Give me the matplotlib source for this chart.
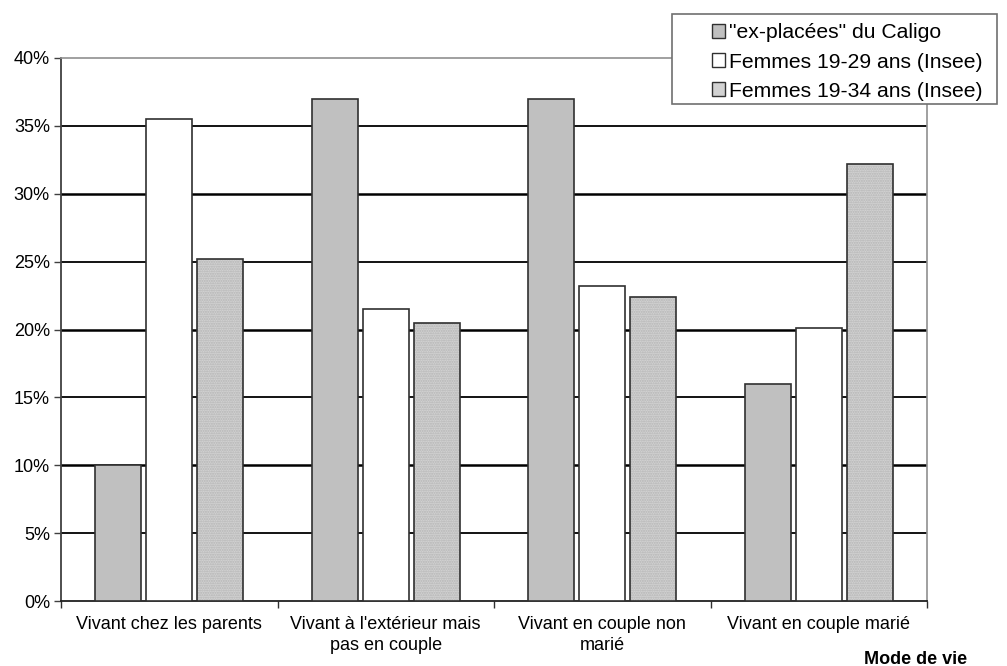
import matplotlib
matplotlib.use("Agg")
import matplotlib.pyplot as plt
from matplotlib.patches import Patch, Rectangle
from matplotlib.ticker import FixedLocator, PercentFormatter
import numpy as np

plt.rcParams['font.family'] = ['Liberation Sans', 'DejaVu Sans']

categories = ["Vivant chez les parents", "Vivant à l'extérieur mais\npas en couple",
              "Vivant en couple non\nmarié", "Vivant en couple marié"]
series_names = ['"ex-placées" du Caligo', "Femmes 19-29 ans (Insee)", "Femmes 19-34 ans (Insee)"]
caligo = [10.0, 37.0, 37.0, 16.0]
insee_19_29 = [35.5, 21.5, 23.2, 20.1]
insee_19_34 = [25.2, 20.45, 22.4, 32.2]
yticks = [0, 5, 10, 15, 20, 25, 30, 35, 40]

fig = plt.figure(figsize=(10.07, 6.66), dpi=100)
ax = fig.add_axes([61/1007, 1-601/666, (927-61)/1007, (601-58)/666])

x = np.arange(len(categories))
w = 0.2125
sp = 0.235

# gridlines
for t in yticks[1:-1]:
    ax.axhline(t, color='black', lw=1.3 if t % 10 else 1.8, zorder=1)

ax.bar(x - sp, caligo, w, color='#c0c0c0', edgecolor='#303030', lw=1.2, zorder=3)
ax.bar(x, insee_19_29, w, color='white', edgecolor='#303030', lw=1.2, zorder=3)
ax.bar(x + sp, insee_19_34, w, color='#d2d2d2', hatch='.......', edgecolor='#b4b4b4', lw=0, zorder=3)
ax.bar(x + sp, insee_19_34, w, fill=False, edgecolor='#303030', lw=1.2, zorder=4)

ax.set_xlim(-0.5, len(categories) - 0.5)
ax.set_ylim(0, 40)
ax.set_yticks(yticks)
ax.yaxis.set_major_formatter(PercentFormatter(decimals=0))
ax.tick_params(axis='y', length=5, width=1, direction='out', labelsize=13, pad=3, color='#404040')

ax.set_xticks(x)
ax.set_xticklabels(categories, fontsize=13, linespacing=1.25, va='top')
ax.tick_params(axis='x', which='major', length=0, pad=11)
ax.xaxis.set_minor_locator(FixedLocator(np.arange(len(categories) + 1) - 0.5))
ax.tick_params(axis='x', which='minor', length=5, width=1, direction='out', color='#303030')

for s in ['top', 'right']:
    ax.spines[s].set_color('#909090')
    ax.spines[s].set_linewidth(1.2)
ax.spines['left'].set_color('#404040')
ax.spines['left'].set_linewidth(1.3)
ax.spines['bottom'].set_color('#202020')
ax.spines['bottom'].set_linewidth(1.3)

# legend frame
fig.patches.append(Rectangle((672/1007, 1-104/666), (997-672)/1007, (104-14)/666,
                             transform=fig.transFigure, facecolor='white',
                             edgecolor='#707070', lw=1.2, zorder=5))

handles = [Patch(facecolor='#c0c0c0', edgecolor='#303030', lw=1),
           Patch(facecolor='white', edgecolor='#303030', lw=1),
           Patch(facecolor='#d2d2d2', edgecolor='#303030', lw=1)]
leg = fig.legend(handles, series_names, loc='center',
                 bbox_to_anchor=(847/1007, 1-62/666),
                 fontsize=15.2, frameon=False,
                 handlelength=0.62, handleheight=0.62, handletextpad=0.2,
                 borderpad=0.0, labelspacing=0.48, borderaxespad=0)
leg.set_zorder(6)

fig.text(916/1007, 1-659/666, "Mode de vie", fontsize=13, fontweight='bold', ha='center', va='center')

fig.savefig("out.png", dpi=100)
